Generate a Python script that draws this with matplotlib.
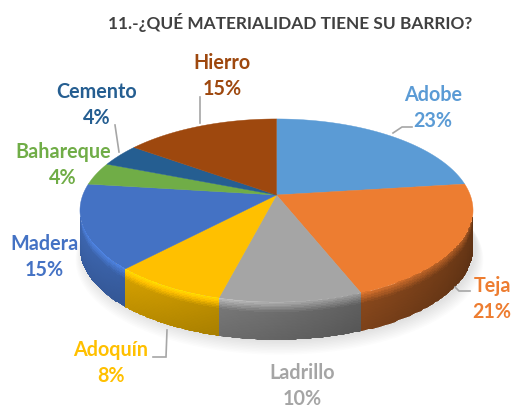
import numpy as np
import matplotlib
matplotlib.use('Agg')
import matplotlib.pyplot as plt
from matplotlib.patches import Polygon

# Datos del grafico
categorias = ['Adobe', 'Teja', 'Ladrillo', 'Adoquín', 'Madera', 'Bahareque', 'Cemento', 'Hierro']
valores = [23, 21, 10, 8, 15, 4, 4, 15]
colores = ['#5B9BD5', '#ED7D31', '#A5A5A5', '#FFC000', '#4472C4', '#70AD47', '#255E91', '#9E480E']
titulo = '11.-¿QUÉ MATERIALIDAD TIENE SU BARRIO?'

# Geometria de la torta en perspectiva (en pixeles de la figura)
CX, CY = 276.5, 195
SX, SY, K = 193.7, 88.9, 0.169
ALTO = 38
BISEL = 6

plt.rcParams['font.family'] = ['Lato', 'DejaVu Sans']


def proyectar(ang, r=1.0, dy=0.0):
    # ang en radianes, sentido horario desde arriba
    x = r * np.sin(ang)
    y = r * np.cos(ang)
    w = 1 + K * y
    return CX + SX * x / w, CY - SY * y / w + dy


def luz_lado(ang):
    # cuerpo del costado: mas claro a la izquierda, oscuro a la derecha
    s = np.sin(ang)
    return 0.66 - 0.24 * s


def luz_bisel(ang):
    s = np.sin(ang)
    return 1.10 - 0.40 * np.clip(s, -0.2, 1)


fig = plt.figure(figsize=(5.23, 4.08), dpi=100)
ax = fig.add_axes([0, 0, 1, 1])
ax.set_xlim(0, 523)
ax.set_ylim(408, 0)
ax.axis('off')

# Sombra suave debajo de la torta
aa = np.linspace(0, 2 * np.pi, 300)
for i in range(10):
    sx, sy = proyectar(aa, 1.0 + 0.004 * i, ALTO + 1 + i * 1.0)
    ax.fill(sx + 3, sy, color='#808080', alpha=0.022, lw=0, zorder=1)

angulos = np.cumsum([0] + valores) / sum(valores) * 2 * np.pi

# Costados y bisel: solo la parte visible, entre los extremos laterales de la elipse
borde = np.arccos(-K)
vis_ini, vis_fin = borde, 2 * np.pi - borde

# Caras superiores
for i, c in enumerate(colores):
    a = np.linspace(angulos[i], angulos[i + 1], 80)
    px, py = proyectar(a)
    ax.fill(np.r_[CX, px], np.r_[CY, py], color=c, lw=0.3, ec=c, zorder=2)

for i, c in enumerate(colores):
    a0, a1 = max(angulos[i], vis_ini), min(angulos[i + 1], vis_fin)
    if a1 <= a0:
        continue
    base = np.array(matplotlib.colors.to_rgb(c))
    a = np.linspace(a0, a1, 60)
    t = np.r_[np.linspace(-1, 0, 8), np.linspace(0, 1, 25)[1:]]
    A, T = np.meshgrid(a, t)
    X, Y = proyectar(A)
    peso = np.clip((-np.cos(A) - K) * 3, 0, 1)
    dy = np.where(T < 0, T * BISEL * peso, T * ALTO)
    Y = Y + dy
    Am = 0.5 * (A[:-1, :-1] + A[1:, 1:])
    Tm = 0.5 * (T[:-1, :-1] + T[1:, 1:])
    cuerpo = luz_lado(Am)
    bisel = luz_bisel(Am)
    f = np.where(Tm < 0, 1 + (bisel - 1) * (Tm + 1),
                 bisel + (cuerpo - bisel) * np.clip(Tm / 0.3, 0, 1))
    f = f * np.where(Tm > 0.3, 1 - 0.12 * (Tm - 0.3), 1)
    rgb = np.clip(base[None, None, :] * f[:, :, None], 0, 1)
    malla = ax.pcolormesh(X, Y, rgb, shading='flat', edgecolors='face', linewidth=0.2, zorder=3)

    # recortar para que el bisel no invada la porcion vecina
    px, py = proyectar(a)
    contorno = np.c_[np.r_[CX, px, px[::-1], px[0]], np.r_[CY, py, py[::-1] + ALTO, py[0]]]
    recorte = Polygon(contorno, transform=ax.transData)
    malla.set_clip_path(recorte)

# Lineas guia
guias = [
    ([393, 402, 412], [133, 127, 127]),
    ([455, 459, 470], [287, 291, 291]),
    ([167, 166, 153], [330, 357, 357]),
    ([200, 200], [97, 123]),
    ([115, 119], [125, 152]),
]
for gx, gy in guias:
    ax.plot(gx, gy, color='#A6A6A6', lw=1.2, zorder=4, solid_joinstyle='miter')

# Etiquetas
pos_etiquetas = [(433, 95, 121), (492, 286, 312), (302, 373, 399), (111, 350, 376),
                 (44, 244, 270), (63, 152, 178), (97, 92, 118), (222, 63, 89)]
for nombre, v, c, (lx, ly1, ly2) in zip(categorias, valores, colores, pos_etiquetas):
    ax.text(lx, ly1, nombre, color=c, fontsize=14.2, fontweight='bold', ha='center', va='center', zorder=5)
    ax.text(lx, ly2, f'{v}%', color=c, fontsize=14.2, fontweight='bold', ha='center', va='center', zorder=5)

ax.text(290.5, 22, titulo, color='#404040', fontsize=12.4, fontweight='bold', ha='center', va='center')

fig.savefig('out.png', dpi=100)
